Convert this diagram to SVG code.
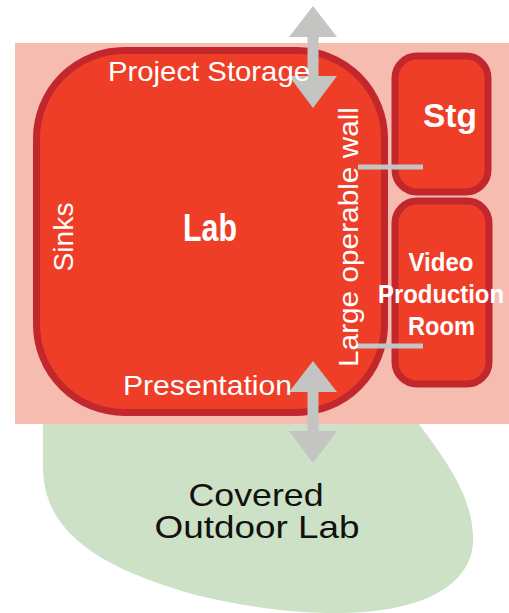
<svg xmlns="http://www.w3.org/2000/svg" width="509" height="613" viewBox="0 0 509 613">
<style>
.room{fill:#ee3e27;stroke:#c1272d;stroke-width:7}
.wall{stroke:#c4c4c2;stroke-width:5;fill:none}
.arrow{fill:#c4c4c2}
.lbl{font-family:"Liberation Sans",Arial,sans-serif;fill:#fff}
.bold{font-family:"Liberation Sans Narrow","Liberation Sans",Arial,sans-serif;font-weight:bold;fill:#fff;text-anchor:middle}
.dark{font-family:"Liberation Sans",Arial,sans-serif;fill:#111;text-anchor:middle;font-size:32px}
</style>
<rect width="509" height="613" fill="#fff"/>
<g id="outdoor">
<path d="M 43 410 L 43 470 C 45 530 95 568 200 596 C 270 612 320 615 365 612 C 440 606 476 575 473 535 C 471 495 448 462 412 415 Z" fill="#cde1c6"/>
</g>
<g id="building">
<rect x="15" y="43" width="494" height="381" fill="#f7bcb0"/>
</g>
<g id="lab">
<rect class="room" x="36.5" y="50.5" width="348" height="362" rx="88" ry="88"/>
</g>
<g id="stg">
<rect class="room" x="395" y="56" width="93" height="136" rx="22" ry="22"/>
</g>
<g id="video">
<rect class="room" x="395" y="201" width="94" height="183" rx="22" ry="22"/>
</g>
<g id="connectors">
<line class="wall" x1="358" y1="167" x2="423" y2="167"/>
<line class="wall" x1="357" y1="346" x2="423" y2="346"/>
<polygon class="arrow" points="313,6 337,37 318.5,37 318.5,76 337,76 313,108 289,76 307.5,76 307.5,37 289,37"/>
<polygon class="arrow" points="313,361 337,392 318.5,392 318.5,431 337,431 313,463 289,431 307.5,431 307.5,392 289,392"/>
</g>
<g id="labels">
<text class="lbl" x="108" y="81" font-size="28" textLength="202" lengthAdjust="spacingAndGlyphs">Project Storage</text>
<text class="lbl" x="123" y="395" font-size="28" textLength="169" lengthAdjust="spacingAndGlyphs">Presentation</text>
<text class="lbl" font-size="28" text-anchor="middle" transform="translate(73,237) rotate(-90)" textLength="69" lengthAdjust="spacingAndGlyphs">Sinks</text>
<text class="lbl" font-size="27" text-anchor="middle" transform="translate(358,237) rotate(-90)" textLength="260" lengthAdjust="spacingAndGlyphs">Large operable wall</text>
<text class="bold" x="210" y="241" font-size="38" textLength="54" lengthAdjust="spacingAndGlyphs">Lab</text>
<text class="bold" x="450" y="127" font-size="34" textLength="54" lengthAdjust="spacingAndGlyphs">Stg</text>
<text class="bold" x="441" y="271" font-size="26" textLength="65" lengthAdjust="spacingAndGlyphs">Video</text>
<text class="bold" x="441" y="303" font-size="26" textLength="126" lengthAdjust="spacingAndGlyphs">Production</text>
<text class="bold" x="441.5" y="335" font-size="26" textLength="67" lengthAdjust="spacingAndGlyphs">Room</text>
<text class="dark" x="256" y="506" textLength="135" lengthAdjust="spacingAndGlyphs">Covered</text>
<text class="dark" x="257" y="538" textLength="205" lengthAdjust="spacingAndGlyphs">Outdoor Lab</text>
</g>
</svg>
